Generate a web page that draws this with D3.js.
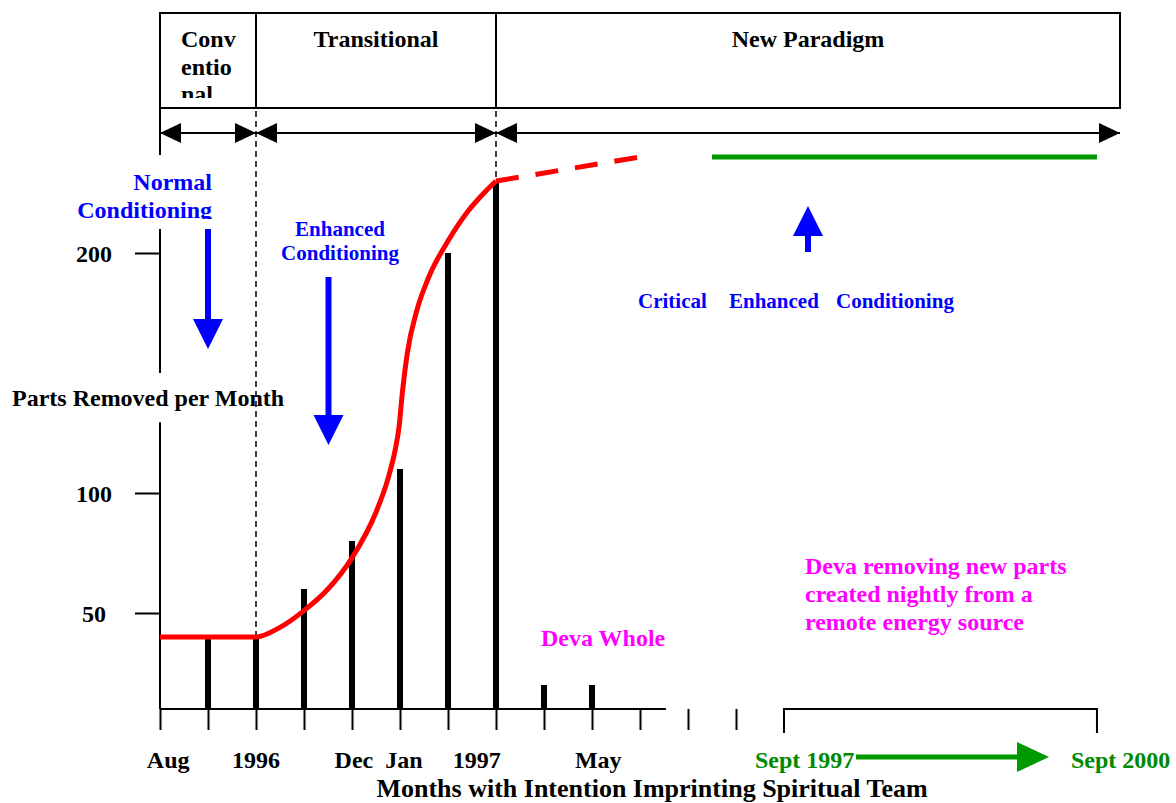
<!DOCTYPE html>
<html>
<head>
<meta charset="utf-8">
<script src="https://cdn.jsdelivr.net/npm/d3@7"></script>
<style>
body { margin: 0; background: #fff; }
svg text { font-family: "Liberation Serif", "Times New Roman", serif; font-weight: bold; }
</style>
</head>
<body>
<div id="chart"></div>
<script>
// month index counted from Aug (0), values = parts removed per month
var barMonths = [1, 2, 3, 4, 5, 6, 7, 8, 9];
var barValues = [40, 40, 60, 80, 110, 200, 230, 20, 20];

// red trend curve
var curveMonths = [0, 1, 2, 2.5, 3, 3.5, 4, 4.5, 4.75, 4.9, 4.98, 5.05, 5.15, 5.35, 5.6, 6, 6.4, 6.75, 7];
var curveValues = [40, 40, 40, 44, 51, 60, 73, 92, 106, 118, 127.5, 142, 158, 176, 190, 205, 217, 225, 230];
var projMonths = [7, 10];
var projValues = [230, 240];
var plateauMonths = [11.5, 19.52];
var plateauValues = [240, 240];

var yTicks = [50, 100, 200];
var monthTicks = d3.range(0, 13);
var breakTicks = [13, 19.52];
var xLabels = ['Aug', '1996', 'Dec', 'Jan', '1997', 'May'];
var xLabelAt = [0.17, 2, 4.04, 5.08, 6.6, 9.13];

var phaseNames = ['Conventional', 'Transitional', 'New Paradigm'];
var phaseStart = [0, 2, 7];
var phaseEnd = [2, 7, 20];

var width = 1176, height = 803;
var blue = '#0000ff', red = '#ff0000', magenta = '#ff00ff', green = '#009900', dkgreen = '#008a00';

var svg = d3.select('#chart').append('svg')
    .attr('width', width)
    .attr('height', height);

var x = d3.scaleLinear().domain([0, 20]).range([160, 1120]);
var y = d3.scaleLinear().domain([10, 250]).range([709, 133]);

// ---- header boxes
var boxTop = 13, boxBottom = 108, arrowY = 133;
svg.selectAll('rect.phase')
    .data(phaseNames)
    .enter().append('rect')
    .attr('class', 'phase')
    .attr('x', (d, i) => x(phaseStart[i]))
    .attr('y', boxTop)
    .attr('width', (d, i) => x(phaseEnd[i]) - x(phaseStart[i]))
    .attr('height', boxBottom - boxTop)
    .attr('fill', 'none')
    .attr('stroke', '#000')
    .attr('stroke-width', 2);

svg.append('clipPath').attr('id', 'hclip')
    .append('rect').attr('x', 0).attr('y', 0).attr('width', width).attr('height', 98);

var conv = svg.append('text')
    .attr('clip-path', 'url(#hclip)')
    .attr('font-size', 24);
['Conv', 'entio', 'nal'].forEach(function(s, i) {
    conv.append('tspan').attr('x', x(0) + 21).attr('y', 47 + i * 27.5).text(s);
});
svg.selectAll('text.phase')
    .data(phaseNames.slice(1))
    .enter().append('text')
    .attr('class', 'phase')
    .attr('x', (d, i) => (x(phaseStart[i + 1]) + x(phaseEnd[i + 1])) / 2)
    .attr('y', 47)
    .attr('text-anchor', 'middle')
    .attr('font-size', 24)
    .text(d => d);

// left edge continues down to the arrows
svg.append('line')
    .attr('x1', x(0)).attr('x2', x(0))
    .attr('y1', boxBottom).attr('y2', 155)
    .attr('stroke', '#000').attr('stroke-width', 2);

// phase arrows
phaseNames.forEach(function(d, i) {
    var a = x(phaseStart[i]), b = x(phaseEnd[i]);
    svg.append('line')
        .attr('x1', a).attr('x2', b)
        .attr('y1', arrowY).attr('y2', arrowY)
        .attr('stroke', '#000').attr('stroke-width', 2);
    svg.append('path')
        .attr('d', 'M' + a + ',' + arrowY + 'L' + (a + 21) + ',' + (arrowY - 10) + 'L' + (a + 21) + ',' + (arrowY + 10) + 'Z')
        .attr('fill', '#000');
    svg.append('path')
        .attr('d', 'M' + b + ',' + arrowY + 'L' + (b - 21) + ',' + (arrowY - 10) + 'L' + (b - 21) + ',' + (arrowY + 10) + 'Z')
        .attr('fill', '#000');
});

// dashed phase dividers
svg.append('line')
    .attr('x1', x(2)).attr('x2', x(2))
    .attr('y1', 111).attr('y2', y(10))
    .attr('stroke', '#000').attr('stroke-width', 1.5)
    .attr('stroke-dasharray', '6,4');
svg.append('line')
    .attr('x1', x(7)).attr('x2', x(7))
    .attr('y1', 111).attr('y2', y(230))
    .attr('stroke', '#000').attr('stroke-width', 1.5)
    .attr('stroke-dasharray', '6,4');

// ---- y axis (broken where the title sits)
var yAxis = d3.axisLeft(y)
    .tickValues(yTicks)
    .tickSize(25)
    .tickFormat('');
var gy = svg.append('g')
    .attr('transform', 'translate(' + x(0) + ',0)')
    .call(yAxis);
gy.select('.domain').remove();
gy.selectAll('.tick line').attr('stroke', '#000').attr('stroke-width', 2);
gy.selectAll('.tick').append('text')
    .attr('x', -66)
    .attr('dy', '0.35em')
    .attr('text-anchor', 'middle')
    .attr('fill', '#000')
    .attr('font-size', 24)
    .text(d => d);

[[210, 150], [129.5, 10]].forEach(function(seg) {
    svg.append('line')
        .attr('x1', x(0)).attr('x2', x(0))
        .attr('y1', y(seg[0])).attr('y2', y(seg[1]))
        .attr('stroke', '#000').attr('stroke-width', 2);
});

svg.append('text')
    .attr('x', 12).attr('y', 406)
    .attr('font-size', 24)
    .text('Parts Removed per Month');

// ---- x axis
var xAxis = d3.axisBottom(x)
    .tickValues(monthTicks)
    .tickSize(21)
    .tickFormat('');
var gx = svg.append('g')
    .attr('transform', 'translate(0,' + y(10) + ')')
    .call(xAxis);
gx.select('.domain').remove();
gx.selectAll('.tick line').attr('stroke', '#000').attr('stroke-width', 2);

svg.append('line')
    .attr('x1', x(0)).attr('x2', x(10.54))
    .attr('y1', y(10)).attr('y2', y(10))
    .attr('stroke', '#000').attr('stroke-width', 2);

// bracket for Sept 1997 - Sept 2000
svg.append('path')
    .attr('d', 'M' + x(breakTicks[0]) + ',' + (y(10) + 24) + 'V' + y(10) + 'H' + x(breakTicks[1]) + 'V' + (y(10) + 24))
    .attr('fill', 'none')
    .attr('stroke', '#000').attr('stroke-width', 2);

svg.selectAll('text.xlab')
    .data(xLabels)
    .enter().append('text')
    .attr('class', 'xlab')
    .attr('x', (d, i) => x(xLabelAt[i]))
    .attr('y', 768)
    .attr('text-anchor', 'middle')
    .attr('font-size', 24)
    .text(d => d);

svg.append('text')
    .attr('x', x(breakTicks[0]) - 29).attr('y', 768)
    .attr('fill', dkgreen)
    .attr('font-size', 24)
    .text('Sept 1997');
svg.append('text')
    .attr('x', x(breakTicks[1]) - 26).attr('y', 768)
    .attr('fill', dkgreen)
    .attr('font-size', 24)
    .text('Sept 2000');

// green time arrow
var gy0 = 757;
svg.append('line')
    .attr('x1', 856).attr('x2', 1020)
    .attr('y1', gy0).attr('y2', gy0)
    .attr('stroke', green).attr('stroke-width', 5);
svg.append('path')
    .attr('d', 'M1049,' + gy0 + 'L1017,' + (gy0 - 15) + 'L1017,' + (gy0 + 15) + 'Z')
    .attr('fill', green);

svg.append('text')
    .attr('x', 652).attr('y', 797)
    .attr('text-anchor', 'middle')
    .attr('font-size', 26)
    .text('Months with Intention Imprinting Spiritual Team');

// ---- bars
svg.selectAll('rect.bar')
    .data(barValues)
    .enter().append('rect')
    .attr('class', 'bar')
    .attr('x', (d, i) => x(barMonths[i]) - 3)
    .attr('y', d => y(d))
    .attr('width', 6)
    .attr('height', d => y(10) - y(d))
    .attr('fill', '#000');

// ---- red curve
var line = d3.line()
    .x(d => x(d[0]))
    .y(d => y(d[1]))
    .curve(d3.curveMonotoneX);

svg.append('path')
    .datum(curveMonths.map((m, i) => [m, curveValues[i]]))
    .attr('d', line)
    .attr('fill', 'none')
    .attr('stroke', red)
    .attr('stroke-width', 5);

svg.append('path')
    .datum(projMonths.map((m, i) => [m, projValues[i]]))
    .attr('d', d3.line().x(d => x(d[0])).y(d => y(d[1])))
    .attr('fill', 'none')
    .attr('stroke', red)
    .attr('stroke-width', 5)
    .attr('stroke-dasharray', '23,17');

svg.append('path')
    .datum(plateauMonths.map((m, i) => [m, plateauValues[i]]))
    .attr('d', d3.line().x(d => x(d[0])).y(d => y(d[1])))
    .attr('fill', 'none')
    .attr('stroke', green)
    .attr('stroke-width', 5);

// ---- blue conditioning arrows
function vArrow(cx, yTail, yTip) {
    var dir = yTip > yTail ? 1 : -1;
    var headBase = yTip - dir * 30;
    svg.append('rect')
        .attr('x', cx - 3).attr('width', 6)
        .attr('y', Math.min(yTail, headBase)).attr('height', Math.abs(headBase - yTail))
        .attr('fill', blue);
    svg.append('path')
        .attr('d', 'M' + cx + ',' + yTip + 'L' + (cx - 15) + ',' + headBase + 'L' + (cx + 15) + ',' + headBase + 'Z')
        .attr('fill', blue);
}
vArrow(208, 229, 349);
vArrow(328.5, 277, 445);
vArrow(808, 252, 206);

svg.append('clipPath').attr('id', 'nclip')
    .append('rect').attr('x', 0).attr('y', 150).attr('width', 300).attr('height', 69);
var normal = svg.append('text')
    .attr('clip-path', 'url(#nclip)')
    .attr('text-anchor', 'end')
    .attr('fill', blue)
    .attr('font-size', 24);
normal.append('tspan').attr('x', 212).attr('y', 190).text('Normal');
normal.append('tspan').attr('x', 212).attr('y', 218).text('Conditioning');

var enh = svg.append('text')
    .attr('text-anchor', 'middle')
    .attr('fill', blue)
    .attr('font-size', 21);
enh.append('tspan').attr('x', 340).attr('y', 236).text('Enhanced');
enh.append('tspan').attr('x', 340).attr('y', 260).text('Conditioning');

[['Critical', 638], ['Enhanced', 729], ['Conditioning', 836]].forEach(function(w) {
    svg.append('text')
        .attr('x', w[1]).attr('y', 308)
        .attr('fill', blue)
        .attr('font-size', 21)
        .text(w[0]);
});

// ---- magenta notes
svg.append('text')
    .attr('x', 541).attr('y', 646)
    .attr('fill', magenta)
    .attr('font-size', 24)
    .text('Deva Whole');

var deva = svg.append('text')
    .attr('fill', magenta)
    .attr('font-size', 24);
['Deva removing new parts', 'created nightly from a', 'remote energy source'].forEach(function(s, i) {
    deva.append('tspan').attr('x', 805).attr('y', 574 + i * 28).text(s);
});
</script>
</body>
</html>
